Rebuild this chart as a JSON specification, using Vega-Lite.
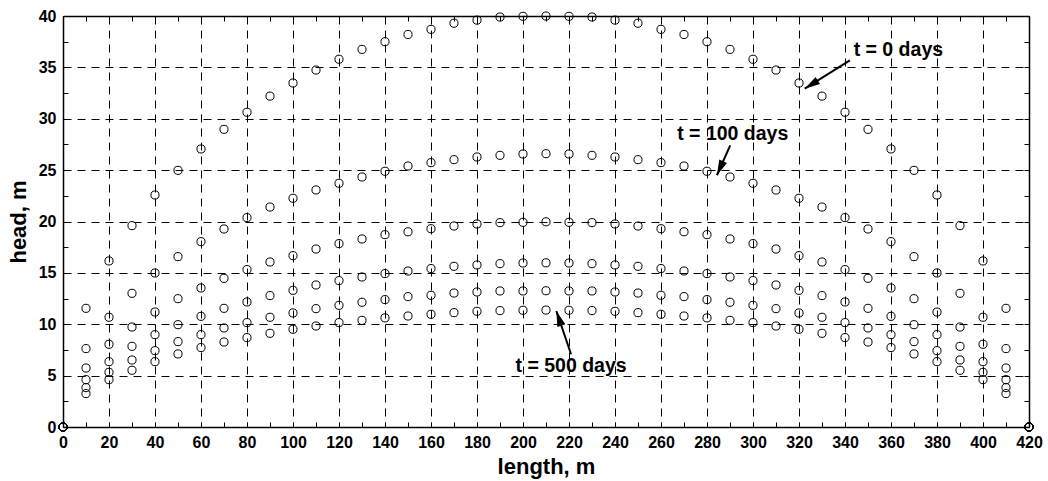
{
  "$schema": "https://vega.github.io/schema/vega-lite/v6.json",
  "width": 966,
  "height": 411,
  "autosize": {"type": "none"},
  "padding": {"left": 63, "top": 16, "right": 19, "bottom": 54},
  "background": "white",
  "config": {"view": {"stroke": "black", "strokeWidth": 1}, "font": "Liberation Sans"},
  "datasets": {
    "heads": [
      {"t":"0","length":0,"head":0},{"t":"0","length":10,"head":11.55},{"t":"0","length":20,"head":16.16},{"t":"0","length":30,"head":19.6},{"t":"0","length":40,"head":22.58},{"t":"0","length":50,"head":24.98},{"t":"0","length":60,"head":27.06},{"t":"0","length":70,"head":28.97},{"t":"0","length":80,"head":30.63},{"t":"0","length":90,"head":32.2},{"t":"0","length":100,"head":33.48},{"t":"0","length":110,"head":34.74},{"t":"0","length":120,"head":35.79},{"t":"0","length":130,"head":36.75},{"t":"0","length":140,"head":37.5},{"t":"0","length":150,"head":38.2},{"t":"0","length":160,"head":38.7},{"t":"0","length":170,"head":39.3},{"t":"0","length":180,"head":39.6},{"t":"0","length":190,"head":39.9},{"t":"0","length":200,"head":39.97},{"t":"0","length":210,"head":40.0},{"t":"0","length":220,"head":39.97},{"t":"0","length":230,"head":39.9},{"t":"0","length":240,"head":39.6},{"t":"0","length":250,"head":39.3},{"t":"0","length":260,"head":38.7},{"t":"0","length":270,"head":38.2},{"t":"0","length":280,"head":37.5},{"t":"0","length":290,"head":36.75},{"t":"0","length":300,"head":35.79},{"t":"0","length":310,"head":34.74},{"t":"0","length":320,"head":33.48},{"t":"0","length":330,"head":32.2},{"t":"0","length":340,"head":30.63},{"t":"0","length":350,"head":28.97},{"t":"0","length":360,"head":27.06},{"t":"0","length":370,"head":24.98},{"t":"0","length":380,"head":22.58},{"t":"0","length":390,"head":19.6},{"t":"0","length":400,"head":16.16},{"t":"0","length":410,"head":11.55},{"t":"0","length":420,"head":0},
      {"t":"100","length":0,"head":0},{"t":"100","length":10,"head":7.63},{"t":"100","length":20,"head":10.68},{"t":"100","length":30,"head":13.01},{"t":"100","length":40,"head":14.99},{"t":"100","length":50,"head":16.58},{"t":"100","length":60,"head":18.04},{"t":"100","length":70,"head":19.27},{"t":"100","length":80,"head":20.38},{"t":"100","length":90,"head":21.41},{"t":"100","length":100,"head":22.26},{"t":"100","length":110,"head":23.07},{"t":"100","length":120,"head":23.72},{"t":"100","length":130,"head":24.33},{"t":"100","length":140,"head":24.89},{"t":"100","length":150,"head":25.4},{"t":"100","length":160,"head":25.73},{"t":"100","length":170,"head":26.02},{"t":"100","length":180,"head":26.28},{"t":"100","length":190,"head":26.44},{"t":"100","length":200,"head":26.57},{"t":"100","length":210,"head":26.6},{"t":"100","length":220,"head":26.57},{"t":"100","length":230,"head":26.44},{"t":"100","length":240,"head":26.28},{"t":"100","length":250,"head":26.02},{"t":"100","length":260,"head":25.73},{"t":"100","length":270,"head":25.4},{"t":"100","length":280,"head":24.89},{"t":"100","length":290,"head":24.33},{"t":"100","length":300,"head":23.72},{"t":"100","length":310,"head":23.07},{"t":"100","length":320,"head":22.26},{"t":"100","length":330,"head":21.41},{"t":"100","length":340,"head":20.38},{"t":"100","length":350,"head":19.27},{"t":"100","length":360,"head":18.04},{"t":"100","length":370,"head":16.58},{"t":"100","length":380,"head":14.99},{"t":"100","length":390,"head":13.01},{"t":"100","length":400,"head":10.68},{"t":"100","length":410,"head":7.63},{"t":"100","length":420,"head":0},
      {"t":"200","length":0,"head":0},{"t":"200","length":10,"head":5.74},{"t":"200","length":20,"head":8.05},{"t":"200","length":30,"head":9.73},{"t":"200","length":40,"head":11.19},{"t":"200","length":50,"head":12.49},{"t":"200","length":60,"head":13.53},{"t":"200","length":70,"head":14.47},{"t":"200","length":80,"head":15.32},{"t":"200","length":90,"head":16.06},{"t":"200","length":100,"head":16.68},{"t":"200","length":110,"head":17.32},{"t":"200","length":120,"head":17.85},{"t":"200","length":130,"head":18.3},{"t":"200","length":140,"head":18.72},{"t":"200","length":150,"head":19.0},{"t":"200","length":160,"head":19.3},{"t":"200","length":170,"head":19.56},{"t":"200","length":180,"head":19.76},{"t":"200","length":190,"head":19.89},{"t":"200","length":200,"head":19.92},{"t":"200","length":210,"head":19.97},{"t":"200","length":220,"head":19.92},{"t":"200","length":230,"head":19.89},{"t":"200","length":240,"head":19.76},{"t":"200","length":250,"head":19.56},{"t":"200","length":260,"head":19.3},{"t":"200","length":270,"head":19.0},{"t":"200","length":280,"head":18.72},{"t":"200","length":290,"head":18.3},{"t":"200","length":300,"head":17.85},{"t":"200","length":310,"head":17.32},{"t":"200","length":320,"head":16.68},{"t":"200","length":330,"head":16.06},{"t":"200","length":340,"head":15.32},{"t":"200","length":350,"head":14.47},{"t":"200","length":360,"head":13.53},{"t":"200","length":370,"head":12.49},{"t":"200","length":380,"head":11.19},{"t":"200","length":390,"head":9.73},{"t":"200","length":400,"head":8.05},{"t":"200","length":410,"head":5.74},{"t":"200","length":420,"head":0},
      {"t":"300","length":0,"head":0},{"t":"300","length":10,"head":4.61},{"t":"300","length":20,"head":6.36},{"t":"300","length":30,"head":7.85},{"t":"300","length":40,"head":8.99},{"t":"300","length":50,"head":9.96},{"t":"300","length":60,"head":10.77},{"t":"300","length":70,"head":11.55},{"t":"300","length":80,"head":12.17},{"t":"300","length":90,"head":12.79},{"t":"300","length":100,"head":13.3},{"t":"300","length":110,"head":13.82},{"t":"300","length":120,"head":14.25},{"t":"300","length":130,"head":14.6},{"t":"300","length":140,"head":14.93},{"t":"300","length":150,"head":15.18},{"t":"300","length":160,"head":15.42},{"t":"300","length":170,"head":15.64},{"t":"300","length":180,"head":15.77},{"t":"300","length":190,"head":15.9},{"t":"300","length":200,"head":15.96},{"t":"300","length":210,"head":15.98},{"t":"300","length":220,"head":15.96},{"t":"300","length":230,"head":15.9},{"t":"300","length":240,"head":15.77},{"t":"300","length":250,"head":15.64},{"t":"300","length":260,"head":15.42},{"t":"300","length":270,"head":15.18},{"t":"300","length":280,"head":14.93},{"t":"300","length":290,"head":14.6},{"t":"300","length":300,"head":14.25},{"t":"300","length":310,"head":13.82},{"t":"300","length":320,"head":13.3},{"t":"300","length":330,"head":12.79},{"t":"300","length":340,"head":12.17},{"t":"300","length":350,"head":11.55},{"t":"300","length":360,"head":10.77},{"t":"300","length":370,"head":9.96},{"t":"300","length":380,"head":8.99},{"t":"300","length":390,"head":7.85},{"t":"300","length":400,"head":6.36},{"t":"300","length":410,"head":4.61},{"t":"300","length":420,"head":0},
      {"t":"400","length":0,"head":0},{"t":"400","length":10,"head":3.83},{"t":"400","length":20,"head":5.32},{"t":"400","length":30,"head":6.52},{"t":"400","length":40,"head":7.43},{"t":"400","length":50,"head":8.31},{"t":"400","length":60,"head":8.99},{"t":"400","length":70,"head":9.64},{"t":"400","length":80,"head":10.16},{"t":"400","length":90,"head":10.68},{"t":"400","length":100,"head":11.1},{"t":"400","length":110,"head":11.52},{"t":"400","length":120,"head":11.84},{"t":"400","length":130,"head":12.14},{"t":"400","length":140,"head":12.4},{"t":"400","length":150,"head":12.69},{"t":"400","length":160,"head":12.82},{"t":"400","length":170,"head":13.04},{"t":"400","length":180,"head":13.14},{"t":"400","length":190,"head":13.24},{"t":"400","length":200,"head":13.24},{"t":"400","length":210,"head":13.26},{"t":"400","length":220,"head":13.24},{"t":"400","length":230,"head":13.24},{"t":"400","length":240,"head":13.14},{"t":"400","length":250,"head":13.04},{"t":"400","length":260,"head":12.82},{"t":"400","length":270,"head":12.69},{"t":"400","length":280,"head":12.4},{"t":"400","length":290,"head":12.14},{"t":"400","length":300,"head":11.84},{"t":"400","length":310,"head":11.52},{"t":"400","length":320,"head":11.1},{"t":"400","length":330,"head":10.68},{"t":"400","length":340,"head":10.16},{"t":"400","length":350,"head":9.64},{"t":"400","length":360,"head":8.99},{"t":"400","length":370,"head":8.31},{"t":"400","length":380,"head":7.43},{"t":"400","length":390,"head":6.52},{"t":"400","length":400,"head":5.32},{"t":"400","length":410,"head":3.83},{"t":"400","length":420,"head":0},
      {"t":"500","length":0,"head":0},{"t":"500","length":10,"head":3.25},{"t":"500","length":20,"head":4.61},{"t":"500","length":30,"head":5.52},{"t":"500","length":40,"head":6.36},{"t":"500","length":50,"head":7.11},{"t":"500","length":60,"head":7.73},{"t":"500","length":70,"head":8.27},{"t":"500","length":80,"head":8.7},{"t":"500","length":90,"head":9.12},{"t":"500","length":100,"head":9.51},{"t":"500","length":110,"head":9.83},{"t":"500","length":120,"head":10.16},{"t":"500","length":130,"head":10.38},{"t":"500","length":140,"head":10.62},{"t":"500","length":150,"head":10.8},{"t":"500","length":160,"head":10.97},{"t":"500","length":170,"head":11.13},{"t":"500","length":180,"head":11.26},{"t":"500","length":190,"head":11.33},{"t":"500","length":200,"head":11.36},{"t":"500","length":210,"head":11.38},{"t":"500","length":220,"head":11.36},{"t":"500","length":230,"head":11.33},{"t":"500","length":240,"head":11.26},{"t":"500","length":250,"head":11.13},{"t":"500","length":260,"head":10.97},{"t":"500","length":270,"head":10.8},{"t":"500","length":280,"head":10.62},{"t":"500","length":290,"head":10.38},{"t":"500","length":300,"head":10.16},{"t":"500","length":310,"head":9.83},{"t":"500","length":320,"head":9.51},{"t":"500","length":330,"head":9.12},{"t":"500","length":340,"head":8.7},{"t":"500","length":350,"head":8.27},{"t":"500","length":360,"head":7.73},{"t":"500","length":370,"head":7.11},{"t":"500","length":380,"head":6.36},{"t":"500","length":390,"head":5.52},{"t":"500","length":400,"head":4.61},{"t":"500","length":410,"head":3.25},{"t":"500","length":420,"head":0}
    ],
    "labels": [
      {"label": "t = 0 days", "length": 363.2, "head": 36.66},
      {"label": "t = 100 days", "length": 291.2, "head": 28.54},
      {"label": "t = 500 days", "length": 220.9, "head": 5.93}
    ],
    "arrows": [
      {"label": "t = 0 days", "length": 342.1, "head": 35.69, "length2": 322.5, "head2": 32.93},
      {"label": "t = 100 days", "length": 290.1, "head": 27.41, "length2": 284.3, "head2": 24.5},
      {"label": "t = 500 days", "length": 220.9, "head": 7.08, "length2": 214.5, "head2": 11.29}
    ]
  },
  "resolve": {"axis": {"x": "independent", "y": "independent"}},
  "layer": [
    {
      "data": {"name": "heads"},
      "mark": {"type": "point", "shape": "circle", "filled": false, "size": 66, "stroke": "black", "strokeWidth": 1, "opacity": 1},
      "encoding": {
        "x": {
          "field": "length", "type": "quantitative",
          "scale": {"domain": [0, 420], "nice": false, "zero": false},
          "axis": {
            "orient": "bottom",
            "values": [0,10,20,30,40,50,60,70,80,90,100,110,120,130,140,150,160,170,180,190,200,210,220,230,240,250,260,270,280,290,300,310,320,330,340,350,360,370,380,390,400,410,420],
            "grid": true, "gridColor": "black", "gridDash": [8, 6], "gridWidth": 1,
            "gridOpacity": {"condition": {"test": "datum.value % 20 === 0 && datum.value > 0 && datum.value < 420", "value": 1}, "value": 0},
            "ticks": true, "tickSize": -5, "tickColor": "black", "tickWidth": 1,
            "domain": true, "domainColor": "black", "domainWidth": 1.5,
            "labelExpr": "datum.value % 20 === 0 ? format(datum.value, 'd') : ''",
            "labelFont": "Liberation Sans", "labelFontWeight": "bold", "labelFontSize": 16, "labelColor": "black",
            "labelPadding": 12, "labelFlush": false, "labelOverlap": false, "labelBound": false,
            "title": "length, m", "titleFont": "Liberation Sans", "titleFontSize": 22, "titleFontWeight": "bold", "titleColor": "black",
            "titleBaseline": "alphabetic", "titleY": 46
          }
        },
        "y": {
          "field": "head", "type": "quantitative",
          "scale": {"domain": [0, 40], "nice": false, "zero": false},
          "axis": {
            "orient": "left",
            "values": [0,2.5,5,7.5,10,12.5,15,17.5,20,22.5,25,27.5,30,32.5,35,37.5,40],
            "grid": true, "gridColor": "black", "gridDash": [8, 6], "gridWidth": 1,
            "gridOpacity": {"condition": {"test": "datum.value % 5 === 0 && datum.value > 0 && datum.value < 40", "value": 1}, "value": 0},
            "ticks": true, "tickSize": -5, "tickColor": "black", "tickWidth": 1,
            "domain": true, "domainColor": "black", "domainWidth": 1.5,
            "labelExpr": "datum.value % 5 === 0 ? format(datum.value, 'd') : ''",
            "labelFont": "Liberation Sans", "labelFontWeight": "bold", "labelFontSize": 16, "labelColor": "black",
            "labelPadding": 12, "labelFlush": false, "labelOverlap": false, "labelBound": false,
            "title": "head, m", "titleFont": "Liberation Sans", "titleFontSize": 22, "titleFontWeight": "bold", "titleColor": "black",
            "titleAngle": -90, "titleAlign": "center", "titleBaseline": "alphabetic", "titleX": -38, "titleY": 205.5
          }
        },
        "detail": {"field": "t", "type": "nominal"}
      }
    },
    {
      "data": {"name": "heads"},
      "mark": {"type": "point", "opacity": 0},
      "encoding": {
        "x": {
          "field": "length", "type": "quantitative",
          "scale": {"domain": [0, 420], "nice": false, "zero": false},
          "axis": {
            "orient": "top",
            "values": [0,10,20,30,40,50,60,70,80,90,100,110,120,130,140,150,160,170,180,190,200,210,220,230,240,250,260,270,280,290,300,310,320,330,340,350,360,370,380,390,400,410,420],
            "grid": false, "labels": false, "title": null,
            "ticks": true, "tickSize": -5, "tickColor": "black", "tickWidth": 1,
            "domain": true, "domainColor": "black", "domainWidth": 1.5
          }
        },
        "y": {
          "field": "head", "type": "quantitative",
          "scale": {"domain": [0, 40], "nice": false, "zero": false},
          "axis": {
            "orient": "right",
            "values": [0,2.5,5,7.5,10,12.5,15,17.5,20,22.5,25,27.5,30,32.5,35,37.5,40],
            "grid": false, "labels": false, "title": null,
            "ticks": true, "tickSize": -5, "tickColor": "black", "tickWidth": 1,
            "domain": true, "domainColor": "black", "domainWidth": 1.5
          }
        }
      }
    },
    {
      "data": {"name": "arrows"},
      "mark": {"type": "rule", "color": "black", "strokeWidth": 2},
      "encoding": {
        "x": {"field": "length", "type": "quantitative", "axis": null},
        "y": {"field": "head", "type": "quantitative", "axis": null},
        "x2": {"field": "length2"},
        "y2": {"field": "head2"}
      }
    },
    {
      "data": {"name": "arrows"},
      "mark": {"type": "point", "shape": "M0,0L0.6,2.2L-0.6,2.2Z", "filled": true, "color": "black", "opacity": 1, "size": 196, "strokeWidth": 0},
      "encoding": {
        "x": {"field": "length2", "type": "quantitative", "axis": null},
        "y": {"field": "head2", "type": "quantitative", "axis": null},
        "angle": {
          "condition": [
            {"test": "datum.label === 't = 0 days'", "value": 238},
            {"test": "datum.label === 't = 100 days'", "value": 204}
          ],
          "value": 341
        }
      }
    },
    {
      "data": {"name": "labels"},
      "mark": {"type": "text", "font": "Liberation Sans", "fontWeight": "bold", "fontSize": 19.5, "color": "black", "align": "center", "baseline": "middle"},
      "encoding": {
        "x": {"field": "length", "type": "quantitative", "axis": null},
        "y": {"field": "head", "type": "quantitative", "axis": null},
        "text": {"field": "label", "type": "nominal"}
      }
    }
  ]
}
